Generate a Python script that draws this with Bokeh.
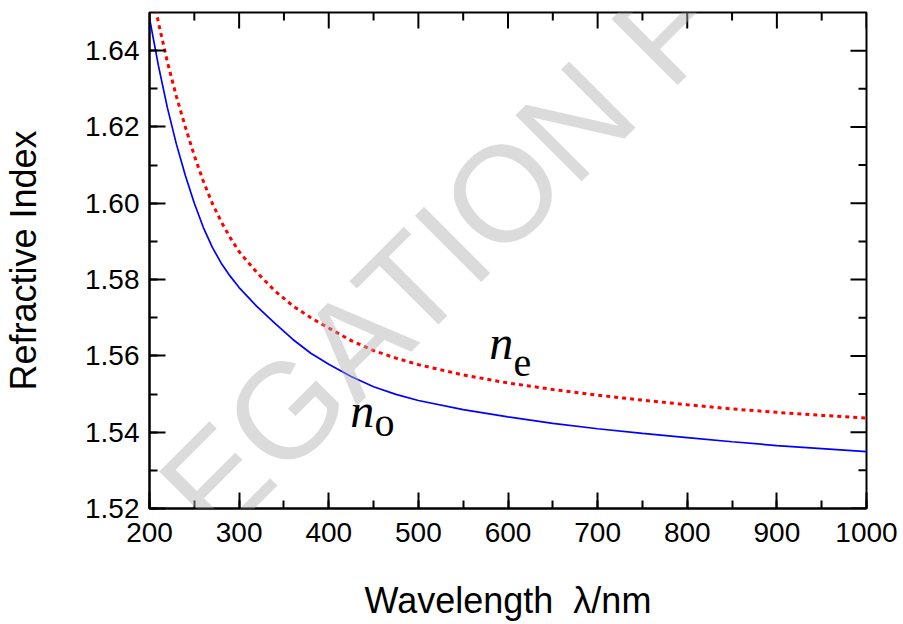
import math
from bokeh.plotting import figure
from bokeh.models import (SingleIntervalTicker, NumeralTickFormatter,
                          Label, Range1d)
from bokeh.embed import file_html
from bokeh.resources import INLINE

# ---- data ----
wavelength = [200, 210, 220, 230, 240, 250, 260, 270, 280, 290, 300, 320, 340,
              360, 380, 400, 425, 450, 475, 500, 550, 600, 650, 700, 750, 800,
              850, 900, 950, 1000]
n_o = [1.6485, 1.6360, 1.6250, 1.6155, 1.6073, 1.6000, 1.5937, 1.5885, 1.5843,
       1.5809, 1.5779, 1.5729, 1.5685, 1.5643, 1.5607, 1.5578, 1.5546, 1.5519,
       1.5499, 1.5483, 1.5459, 1.5440, 1.5423, 1.5409, 1.5397, 1.5386, 1.5375,
       1.5365, 1.5357, 1.5349]
n_e = [1.6590, 1.6473, 1.6370, 1.6280, 1.6200, 1.6125, 1.6058, 1.6000, 1.5952,
       1.5910, 1.5873, 1.5818, 1.5770, 1.5731, 1.5700, 1.5673, 1.5640, 1.5614,
       1.5594, 1.5577, 1.5550, 1.5529, 1.5512, 1.5497, 1.5484, 1.5472, 1.5461,
       1.5452, 1.5444, 1.5437]

x_limits = (200, 1000)
y_limits = (1.52, 1.65)
x_major = [200, 300, 400, 500, 600, 700, 800, 900, 1000]
x_minor = [250, 350, 450, 550, 650, 750, 850, 950]
y_major = [1.52, 1.54, 1.56, 1.58, 1.60, 1.62, 1.64]
y_minor = [1.53, 1.55, 1.57, 1.59, 1.61, 1.63]
x_title = "Wavelength \u00a0\u03bb/nm"
y_title = "Refractive Index"
watermark = "DELEGATION F"

FONT = "Liberation Sans"
SERIF = "Liberation Serif"

p = figure(width=903, height=624,
           x_range=Range1d(*x_limits), y_range=Range1d(*y_limits),
           output_backend="svg", toolbar_location=None,
           min_border_left=146, min_border_right=37,
           min_border_top=12, min_border_bottom=116)
p.background_fill_color = "white"
p.border_fill_color = "white"
p.outline_line_color = "black"
p.outline_line_width = 2
p.xgrid.visible = False
p.ygrid.visible = False


def style_axis(ax, ticker):
    ax.ticker = ticker
    ax.axis_line_color = "black"
    ax.axis_line_width = 2
    ax.major_tick_line_color = "black"
    ax.major_tick_line_width = 2
    ax.minor_tick_line_color = "black"
    ax.minor_tick_line_width = 2
    ax.major_tick_in = 16
    ax.major_tick_out = 0
    ax.minor_tick_in = 8
    ax.minor_tick_out = 0
    ax.major_label_text_font = FONT
    ax.major_label_text_font_size = "28px"
    ax.major_label_text_color = "black"
    ax.axis_label_text_font = FONT
    ax.axis_label_text_font_size = "36px"
    ax.axis_label_text_font_style = "normal"
    ax.axis_label_text_color = "black"


xa = p.xaxis[0]
style_axis(xa, SingleIntervalTicker(interval=100, num_minor_ticks=2))
xa.axis_label = x_title
xa.major_label_standoff = 14
xa.axis_label_standoff = 35

ya = p.yaxis[0]
style_axis(ya, SingleIntervalTicker(interval=0.02, num_minor_ticks=2))
ya.axis_label = y_title
ya.formatter = NumeralTickFormatter(format="0.00")
ya.major_label_standoff = 10
ya.axis_label_standoff = 38

# ---- inward ticks on the top and right frame edges (half clipped by frame) ----
y_top = y_limits[1]
x_right = x_limits[1]
p.scatter(x_major, [y_top] * len(x_major), marker="dash", size=32,
          angle=math.pi / 2, line_color="black", line_width=2)
p.scatter(x_minor, [y_top] * len(x_minor), marker="dash", size=16,
          angle=math.pi / 2, line_color="black", line_width=2)
p.scatter([x_right] * len(y_major), y_major, marker="dash", size=32,
          line_color="black", line_width=2)
p.scatter([x_right] * len(y_minor), y_minor, marker="dash", size=16,
          line_color="black", line_width=2)

# ---- curves ----
p.line(wavelength, n_e, line_color="#ff0000", line_width=3, line_dash="4 4")
p.line(wavelength, n_o, line_color="#0000ff", line_width=1.7)

# ---- curve labels ----
for (lx, ly, txt, italic, size) in [
        (579, 1.5565, "n", True, "48px"),
        (606, 1.5547, "e", False, "40px"),
        (424, 1.5387, "n", True, "48px"),
        (451, 1.5366, "o", False, "40px")]:
    p.add_layout(Label(x=lx, y=ly, text=txt, text_font=SERIF,
                       text_font_style="italic" if italic else "normal",
                       text_font_size=size, text_color="black",
                       text_baseline="bottom"))

# ---- watermark ----
p.add_layout(Label(x=30, y=1.4700, text=watermark, angle=math.pi / 4,
                   text_font=FONT, text_font_size="136px",
                   text_baseline="alphabetic",
                   text_color="#b0b0b0", text_alpha=0.45, level="overlay"))

open("out.html", "w").write(file_html(p, INLINE))
